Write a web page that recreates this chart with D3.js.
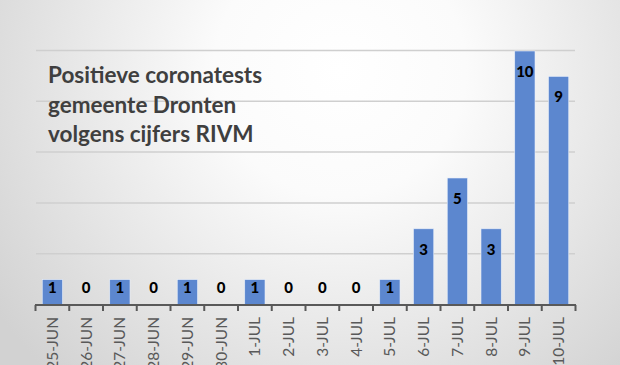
<!DOCTYPE html>
<html><head><meta charset="utf-8">
<script src="https://cdn.jsdelivr.net/npm/d3@7/dist/d3.min.js"></script>
<style>html,body{margin:0;padding:0;overflow:hidden;background:#fff}</style>
</head><body>
<svg id="c" width="620" height="365"></svg>
<script>
const categories = ["25-JUN","26-JUN","27-JUN","28-JUN","29-JUN","30-JUN","1-JUL","2-JUL","3-JUL","4-JUL","5-JUL","6-JUL","7-JUL","8-JUL","9-JUL","10-JUL"];
const values = [1,0,1,0,1,0,1,0,0,0,1,3,5,3,10,9];
const gridValues = [2,4,6,8,10];
const titleLines = ["Positieve coronatests","gemeente Dronten","volgens cijfers RIVM"];

const svg = d3.select("#c");
const defs = svg.append("defs");
const rg = defs.append("radialGradient").attr("id","bg").attr("gradientUnits","userSpaceOnUse")
  .attr("cx",340).attr("cy",70).attr("r",420).attr("fx",340).attr("fy",70);
rg.append("stop").attr("offset","0").attr("stop-color","#ffffff");
rg.append("stop").attr("offset","0.3").attr("stop-color","#fbfbfb");
rg.append("stop").attr("offset","1").attr("stop-color","#d2d2d2");
svg.append("rect").attr("width",620).attr("height",365).attr("fill","url(#bg)");

const x = d3.scaleBand().domain(categories).range([35.5,575.5]).paddingInner(0.4).paddingOuter(0.2);
const y = d3.scaleLinear().domain([0,10]).range([305,51]);

svg.append("g").selectAll("line").data(gridValues).join("line")
  .attr("x1",36).attr("x2",575).attr("y1",d=>y(d)-0.5).attr("y2",d=>y(d)-0.5)
  .attr("stroke","#cfcfcf").attr("stroke-width",1.5);

svg.append("g").selectAll("rect").data(values).join("rect")
  .attr("x",(d,i)=>x(categories[i])).attr("width",x.bandwidth())
  .attr("y",d=>y(d)).attr("height",d=>y(0)-y(d))
  .attr("fill","#5c87cf").attr("stroke","#e8eefa").attr("stroke-width",0.6);

svg.append("g").selectAll("text").data(values).join("text")
  .attr("x",(d,i)=>x(categories[i])+x.bandwidth()/2)
  .attr("y",d=>Math.min(y(d)+21, 288)+5)
  .attr("text-anchor","middle")
  .attr("font-family","Lato, 'Open Sans', sans-serif").attr("font-weight","900")
  .attr("font-size",15).attr("fill","#000")
  .text(d=>d);

// axis
const ax = d3.axisBottom(x).tickSize(0).tickFormat(d=>d);
const axg = svg.append("g").attr("transform","translate(0,305)").call(ax);
axg.select(".domain").remove();
axg.append("line").attr("x1",35).attr("x2",576).attr("y1",0).attr("y2",0).attr("stroke","#595959").attr("stroke-width",2);
const boundaries = d3.range(categories.length+1).map(i=>35.5 + i*(540/categories.length));
axg.selectAll(".tk").data(boundaries).join("line").attr("class","tk")
  .attr("x1",d=>d).attr("x2",d=>d).attr("y1",0).attr("y2",6).attr("stroke","#595959").attr("stroke-width",2);
axg.selectAll(".tick text")
  .attr("transform","rotate(-90)")
  .attr("x",-12).attr("y",0).attr("dy","0.35em")
  .attr("text-anchor","end")
  .attr("font-family","Lato, 'Open Sans', sans-serif").attr("font-size",15.5)
  .attr("fill","#595959");

const t = svg.append("text").attr("font-family","Lato, 'Open Sans', sans-serif").attr("font-weight","bold")
  .attr("font-size",22.5).attr("fill","#3f3f3f");
titleLines.forEach((l,i)=>t.append("tspan").attr("x",48).attr("y",83+i*29.5).text(l));
</script>
</body></html>
